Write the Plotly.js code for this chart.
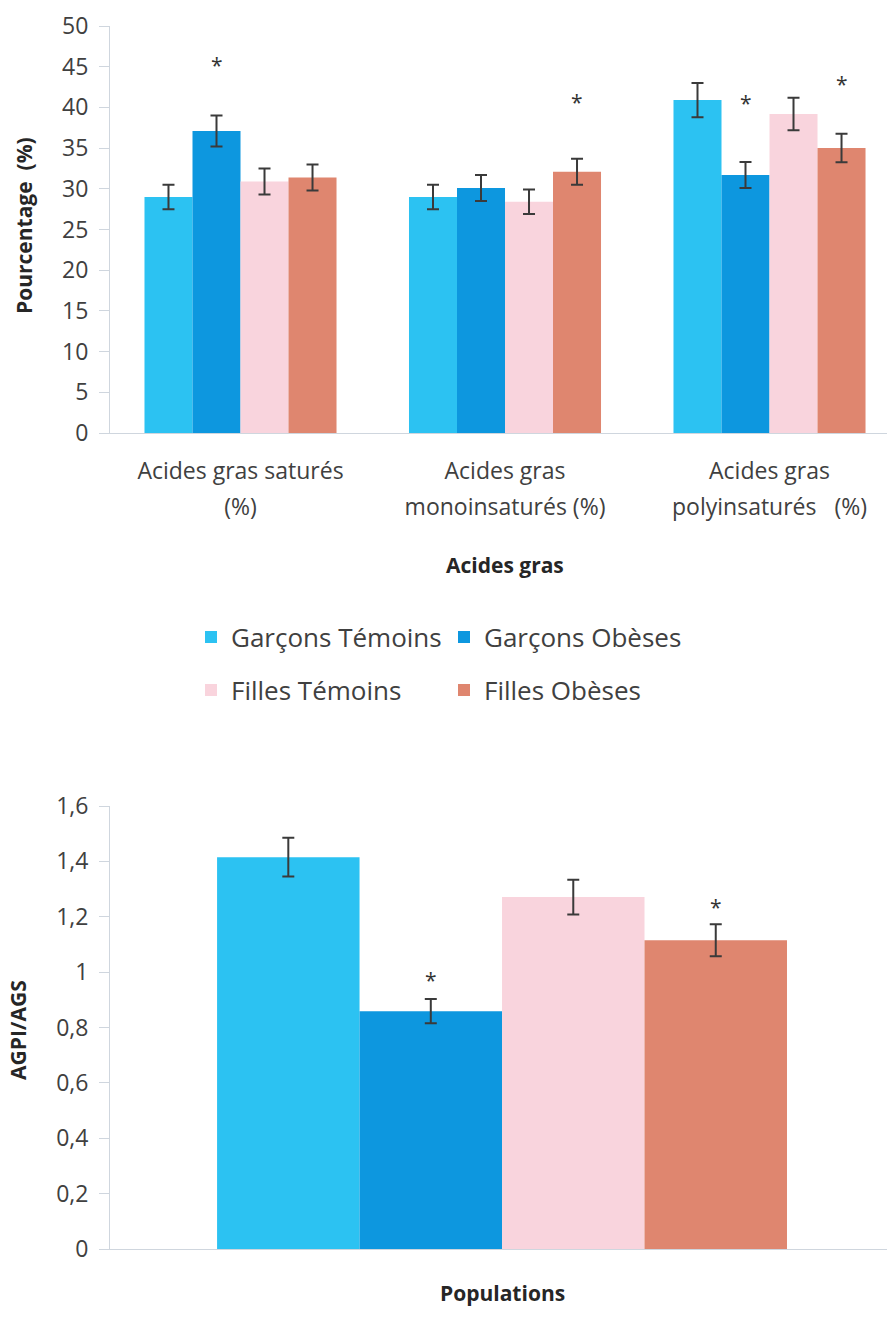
<!DOCTYPE html>
<html>
<head>
<meta charset="utf-8">
<script src="https://cdn.plot.ly/plotly-3.0.1.min.js"></script>
<style>html,body{margin:0;padding:0;background:#fff;}</style>
</head>
<body>
<div id="chart" style="width:887px;height:1321px;"></div>
<script>
// ---------- data ----------
const categories = ['sat', 'mono', 'poly'];
const categoryLabels = ['Acides gras saturés<br>(%)', 'Acides gras<br>monoinsaturés (%)', 'Acides gras<br>polyinsaturés\u00a0\u00a0\u00a0(%)'];
const seriesNames = ['Garçons Témoins', 'Garçons Obèses', 'Filles Témoins', 'Filles Obèses'];
const seriesColors = ['#2cc2f2', '#0d97df', '#f9d4dd', '#df866f'];

const garconsTemoins = [29.0, 29.0, 40.9];
const garconsTemoinsErr = [1.5, 1.5, 2.1];
const garconsObeses = [37.1, 30.1, 31.7];
const garconsObesesErr = [1.9, 1.6, 1.6];
const fillesTemoins = [30.9, 28.4, 39.2];
const fillesTemoinsErr = [1.6, 1.5, 2.0];
const fillesObeses = [31.4, 32.1, 35.0];
const fillesObesesErr = [1.6, 1.6, 1.75];

// significance marks (series index, category index, height of the star)
const starSeriesTop = [1, 3, 1, 3];
const starCategoryTop = [0, 1, 2, 2];
const starHeightTop = [45.7, 41.2, 41.0, 43.4];

const ratioCategory = ['Populations'];
const ratioGarconsTemoins = [1.415];
const ratioGarconsObeses = [0.859];
const ratioFillesTemoins = [1.271];
const ratioFillesObeses = [1.115];
const ratioErr = [0.07, 0.044, 0.063, 0.058];

const starSeriesBottom = [1, 3];
const starHeightBottom = [0.986, 1.249];

const yTickVals1 = [0, 5, 10, 15, 20, 25, 30, 35, 40, 45, 50];
const yTickVals2 = [0, 0.2, 0.4, 0.6, 0.8, 1, 1.2, 1.4, 1.6];

// ---------- figure ----------
const topValues = [garconsTemoins, garconsObeses, fillesTemoins, fillesObeses];
const topErrs = [garconsTemoinsErr, garconsObesesErr, fillesTemoinsErr, fillesObesesErr];
const bottomValues = [ratioGarconsTemoins, ratioGarconsObeses, ratioFillesTemoins, ratioFillesObeses];

const BARGAP = 0.274;
const errStyle = {color: '#3a3a3a', thickness: 2, width: 6};
const FONT = 'Open Sans, Noto Sans, sans-serif';
const traces = [];

seriesNames.forEach((name, i) => {
  traces.push({
    type: 'bar', name: name, x: categories, y: topValues[i],
    xaxis: 'x', yaxis: 'y',
    marker: {color: seriesColors[i], line: {width: 0}},
    error_y: Object.assign({type: 'data', array: topErrs[i], visible: true}, errStyle),
    legend: i < 2 ? 'legend' : 'legend2',
    legendgroup: name, hoverinfo: 'skip'
  });
});
seriesNames.forEach((name, i) => {
  traces.push({
    type: 'bar', name: name, x: ratioCategory, y: bottomValues[i],
    xaxis: 'x2', yaxis: 'y2', showlegend: false, legendgroup: name,
    marker: {color: seriesColors[i], line: {width: 0}},
    error_y: Object.assign({type: 'data', array: [ratioErr[i]], visible: true}, errStyle),
    hoverinfo: 'skip'
  });
});

const barW = (1 - BARGAP) / seriesNames.length;
const offsetOf = s => (s - (seriesNames.length - 1) / 2) * barW;

const annotations = [];
const starFont = {family: FONT, size: 21, color: '#333'};
starSeriesTop.forEach((s, k) => {
  annotations.push({xref: 'x', yref: 'y', x: starCategoryTop[k] + offsetOf(s), y: starHeightTop[k],
    xanchor: 'center', yanchor: 'middle', text: '*', showarrow: false, font: starFont, yshift: -4});
});
starSeriesBottom.forEach((s, k) => {
  annotations.push({xref: 'x2', yref: 'y2', x: offsetOf(s), y: starHeightBottom[k],
    xanchor: 'center', yanchor: 'middle', text: '*', showarrow: false, font: starFont, yshift: -4});
});
const titleFont = {family: FONT, size: 21, color: '#262626', weight: 'bold'};
const titleBase = {xref: 'paper', yref: 'paper', xanchor: 'center', yanchor: 'middle', showarrow: false, font: titleFont};
annotations.push(Object.assign({}, titleBase, {x: 24 / 887, y: 1 - 226 / 1321, text: 'Pourcentage\u00a0\u00a0(%)', textangle: -90}));
annotations.push(Object.assign({}, titleBase, {x: 505 / 887, y: 1 - 565 / 1321, text: 'Acides gras'}));
annotations.push(Object.assign({}, titleBase, {x: 18 / 887, y: 1 - 1030 / 1321, text: 'AGPI/AGS', textangle: -90}));
annotations.push(Object.assign({}, titleBase, {x: 502 / 887, y: 1 - 1293 / 1321, text: 'Populations'}));

const axisLine = '#cfd6de';
const yCommon = {
  showgrid: false, zeroline: false, showline: true, linecolor: axisLine, linewidth: 1,
  ticks: 'outside', ticklen: 10, tickcolor: axisLine, tickwidth: 1,
  tickfont: {family: FONT, size: 23, color: '#404040'}, ticklabelstandoff: 6, fixedrange: true
};
const xCommon = {
  showgrid: false, zeroline: false, showline: true, linecolor: axisLine, linewidth: 1,
  ticks: '', fixedrange: true, type: 'category'
};

const layout = {
  width: 887, height: 1321,
  margin: {l: 0, r: 0, t: 0, b: 0, pad: 0},
  paper_bgcolor: '#ffffff', plot_bgcolor: '#ffffff',
  barmode: 'group', bargap: BARGAP, bargroupgap: 0,
  separators: ', ',
  font: {family: FONT, color: '#404040'},
  xaxis: Object.assign({}, xCommon, {
    domain: [110 / 887, 1], anchor: 'y', range: [-0.4934, 2.4442],
    tickvals: categories,
    ticktext: categoryLabels.map(t => '<span style="font-size:23px">' + t + '</span>'),
    tickfont: {family: FONT, size: 27, color: '#404040'}, ticklabelstandoff: 13
  }),
  yaxis: Object.assign({}, yCommon, {
    domain: [1 - 433 / 1321, 1 - 26 / 1321], anchor: 'x', range: [0, 50], tickvals: yTickVals1
  }),
  xaxis2: Object.assign({}, xCommon, {
    domain: [110 / 887, 1], anchor: 'y2', range: [-0.4994, 0.4904], showticklabels: false
  }),
  yaxis2: Object.assign({}, yCommon, {
    domain: [1 - 1249 / 1321, 1 - 806 / 1321], anchor: 'x2', range: [0, 1.6], tickvals: yTickVals2
  }),
  legend: {
    orientation: 'h', x: 191 / 887, xanchor: 'left', y: 1 - 637 / 1321, yanchor: 'middle',
    entrywidth: 208, entrywidthmode: 'pixels', bgcolor: 'rgba(0,0,0,0)', borderwidth: 0,
    font: {family: FONT, size: 26, color: '#404040'}, itemclick: false, itemdoubleclick: false
  },
  legend2: {
    orientation: 'h', x: 191 / 887, xanchor: 'left', y: 1 - 690 / 1321, yanchor: 'middle',
    entrywidth: 208, entrywidthmode: 'pixels', bgcolor: 'rgba(0,0,0,0)', borderwidth: 0,
    font: {family: FONT, size: 26, color: '#404040'}, itemclick: false, itemdoubleclick: false
  },
  annotations: annotations,
  showlegend: true
};

Plotly.newPlot('chart', traces, layout, {displayModeBar: false, staticPlot: true});
</script>
</body>
</html>
